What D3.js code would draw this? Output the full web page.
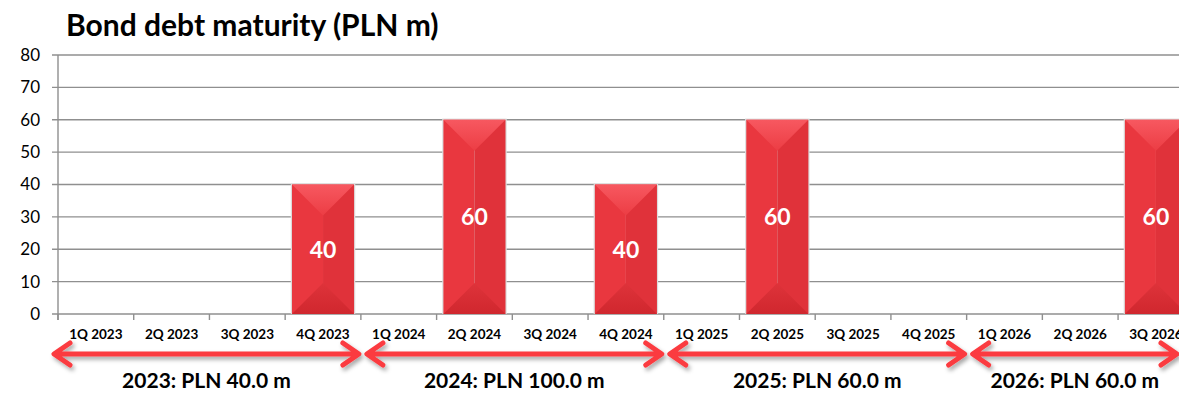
<!DOCTYPE html>
<html>
<head>
<meta charset="utf-8">
<script src="https://cdn.jsdelivr.net/npm/d3@7"></script>
<style>
  html, body { margin: 0; padding: 0; background: #fff; overflow: hidden; }
  svg { display: block; font-family: Lato, "Open Sans", sans-serif; }
</style>
</head>
<body>
<svg id="chart" width="1179" height="393"></svg>
<script>
// Quarterly bond redemptions, PLN m
const quarters = [
  "1Q 2023", "2Q 2023", "3Q 2023", "4Q 2023",
  "1Q 2024", "2Q 2024", "3Q 2024", "4Q 2024",
  "1Q 2025", "2Q 2025", "3Q 2025", "4Q 2025",
  "1Q 2026", "2Q 2026", "3Q 2026"
];
const maturities = [0, 0, 0, 40, 0, 60, 0, 40, 0, 60, 0, 0, 0, 0, 60];
const years = ["2023", "2024", "2025", "2026"];
const yTicks = [0, 10, 20, 30, 40, 50, 60, 70, 80];
const chartTitle = "Bond debt maturity (PLN m)";

const W = 1179, H = 393;
const svg = d3.select("#chart");

const margin = { left: 58, top: 55, bottom: 314 };
const bandW = 75.72;

const x = d3.scaleBand()
  .domain(quarters)
  .range([margin.left, margin.left + bandW * quarters.length])
  .paddingInner(0.18)
  .paddingOuter(0.09);

const y = d3.scaleLinear().domain([0, 80]).range([margin.bottom, margin.top]);

const defs = svg.append("defs");
const shadow = defs.append("filter").attr("id", "arrowShadow")
  .attr("x", "-5%").attr("y", "-60%").attr("width", "110%").attr("height", "240%");
shadow.append("feDropShadow")
  .attr("dx", 2).attr("dy", 3).attr("stdDeviation", 2)
  .attr("flood-color", "#000").attr("flood-opacity", 0.35);

const topGrad = defs.append("linearGradient").attr("id", "topFace")
  .attr("x1", 0).attr("y1", 0).attr("x2", 0).attr("y2", 1);
topGrad.append("stop").attr("offset", "0%").attr("stop-color", "#f75860");
topGrad.append("stop").attr("offset", "100%").attr("stop-color", "#ec3d44");

const botGrad = defs.append("linearGradient").attr("id", "bottomFace")
  .attr("x1", 0).attr("y1", 0).attr("x2", 0).attr("y2", 1);
botGrad.append("stop").attr("offset", "0%").attr("stop-color", "#de333a");
botGrad.append("stop").attr("offset", "100%").attr("stop-color", "#d0272e");

// Title
svg.append("text")
  .attr("x", 66).attr("y", 36)
  .attr("font-size", 30).attr("font-weight", 700).attr("fill", "#000")
  .text(chartTitle);

// Horizontal gridlines
svg.append("g").selectAll("line").data(yTicks).join("line")
  .attr("x1", margin.left - 6).attr("x2", W)
  .attr("y1", d => y(d)).attr("y2", d => y(d))
  .attr("stroke", "#8f8f8f").attr("stroke-width", 1.4);

// Y axis
const yAxis = d3.axisLeft(y).tickValues(yTicks).tickSize(0).tickPadding(18);
const gy = svg.append("g").attr("transform", `translate(${margin.left},0)`).call(yAxis);
gy.select(".domain").remove();
gy.selectAll("text").attr("font-size", 17).attr("fill", "#000")
  .attr("font-family", "Lato, sans-serif");
svg.append("line")
  .attr("x1", margin.left).attr("x2", margin.left)
  .attr("y1", y(80)).attr("y2", y(0) + 6)
  .attr("stroke", "#8f8f8f").attr("stroke-width", 1.4);

// X tick marks at category boundaries
const boundaries = d3.range(quarters.length + 1).map(i => margin.left + i * bandW);
svg.append("g").selectAll("line").data(boundaries).join("line")
  .attr("x1", d => d).attr("x2", d => d)
  .attr("y1", y(0)).attr("y2", y(0) + 6)
  .attr("stroke", "#8f8f8f").attr("stroke-width", 1.4);

// Category labels
svg.append("g").selectAll("text").data(quarters).join("text")
  .attr("x", d => x(d) + x.bandwidth() / 2)
  .attr("y", 339)
  .attr("text-anchor", "middle")
  .attr("font-size", 13.5).attr("font-weight", 700).attr("fill", "#000")
  .text(d => d);

// Bevelled bars
const bars = quarters.map((q, i) => ({ q, v: maturities[i] })).filter(d => d.v > 0);
const bw = x.bandwidth();
const barG = svg.append("g").selectAll("g").data(bars).join("g");

barG.append("rect")
  .attr("x", d => x(d.q) - 1.2).attr("y", d => y(d.v) - 1.2)
  .attr("width", bw + 2.4).attr("height", d => y(0) - y(d.v) + 1.2)
  .attr("fill", "#dddddd");

barG.append("rect")
  .attr("x", d => x(d.q)).attr("y", d => y(d.v))
  .attr("width", bw / 2).attr("height", d => y(0) - y(d.v))
  .attr("fill", "#e9373f");
barG.append("rect")
  .attr("x", d => x(d.q) + bw / 2).attr("y", d => y(d.v))
  .attr("width", bw / 2).attr("height", d => y(0) - y(d.v))
  .attr("fill", "#e0323a");

barG.append("path")
  .attr("d", d => {
    const x0 = x(d.q), y0 = y(d.v);
    return `M${x0},${y0}L${x0 + bw},${y0}L${x0 + bw / 2},${y0 + bw / 2}Z`;
  })
  .attr("fill", "url(#topFace)");

barG.append("path")
  .attr("d", d => {
    const x0 = x(d.q), y1 = y(0);
    return `M${x0},${y1}L${x0 + bw},${y1}L${x0 + bw / 2},${y1 - bw / 2}Z`;
  })
  .attr("fill", "url(#bottomFace)");

barG.append("text")
  .attr("x", d => x(d.q) + bw / 2)
  .attr("y", d => (y(d.v) + y(0)) / 2)
  .attr("dy", "0.36em")
  .attr("text-anchor", "middle")
  .attr("font-size", 23).attr("font-weight", 700).attr("fill", "#fff")
  .text(d => d.v);

// Yearly totals with double-headed arrows
const totals = years.map((yr, i) => {
  const idx = quarters.map((q, j) => j).filter(j => quarters[j].endsWith(yr));
  const sum = d3.sum(idx, j => maturities[j]);
  const x0 = margin.left + d3.min(idx) * bandW;
  const x1 = Math.min(margin.left + (d3.max(idx) + 1) * bandW, W);
  const left = i === 0 ? x0 - 4 : x0 + 6;
  const right = x1 - 2;
  return { yr, sum, left, right };
});

const arrowY = 354;
const headL = 16, headH = 11;
const arrowG = svg.append("g").selectAll("g").data(totals).join("g")
  .attr("filter", "url(#arrowShadow)");

arrowG.append("path")
  .attr("d", d =>
    `M${d.left + 2},${arrowY}L${d.right - 2},${arrowY}` +
    `M${d.left + headL},${arrowY - headH}L${d.left},${arrowY}L${d.left + headL},${arrowY + headH}` +
    `M${d.right - headL},${arrowY - headH}L${d.right},${arrowY}L${d.right - headL},${arrowY + headH}`)
  .attr("fill", "none")
  .attr("stroke", "#fb3b3f").attr("stroke-width", 5)
  .attr("stroke-linecap", "round").attr("stroke-linejoin", "round");

const fmt = d3.format(".1f");
svg.append("g").selectAll("text").data(totals).join("text")
  .attr("x", d => (d.left + d.right) / 2)
  .attr("y", 388)
  .attr("text-anchor", "middle")
  .attr("font-size", 21).attr("font-weight", 700).attr("fill", "#000")
  .text(d => `${d.yr}: PLN ${fmt(d.sum)} m`);
</script>
</body>
</html>
